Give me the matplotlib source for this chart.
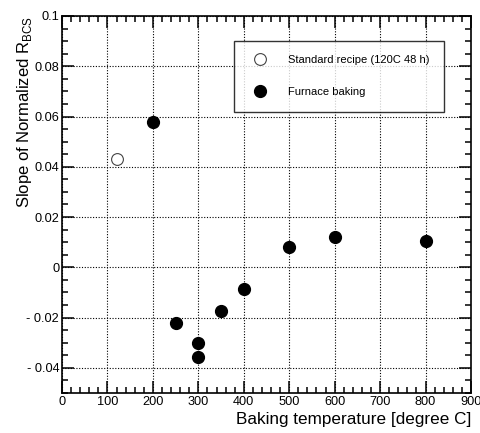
import numpy as np
import matplotlib
matplotlib.use("Agg")
import matplotlib.pyplot as plt
from matplotlib.ticker import MultipleLocator, FuncFormatter

plt.rcParams.update({
    "font.family": ["Liberation Sans", "DejaVu Sans"],
    "xtick.direction": "in",
    "ytick.direction": "in",
})

# Data
std_temp = [120]
std_slope = [0.043]

furnace_temp = [200, 250, 300, 300, 350, 400, 500, 600, 800]
furnace_slope = [0.058, -0.022, -0.030, -0.0355, -0.0175, -0.0085, 0.008, 0.012, 0.0105]

fig = plt.figure(figsize=(4.81, 4.33), dpi=100)
ax = fig.add_axes([62 / 481, 40 / 433, 409 / 481, 377 / 433])

ax.plot(std_temp, std_slope, "o", ms=8.5, mfc="white", mec="#444444", mew=0.8,
        label="Standard recipe (120C 48 h)", zorder=3)
ax.plot(furnace_temp, furnace_slope, "o", ms=8.5, color="black",
        label="Furnace baking", zorder=3)

ax.set_xlim(0, 900)
ax.set_ylim(-0.05, 0.1)
ax.xaxis.set_major_locator(MultipleLocator(100))
ax.xaxis.set_minor_locator(MultipleLocator(20))
ax.yaxis.set_major_locator(MultipleLocator(0.02))
ax.yaxis.set_minor_locator(MultipleLocator(0.005))


def yfmt(v, pos):
    if abs(v) < 1e-9:
        return "0"
    s = f"{abs(v):g}"
    return ("- " + s) if v < 0 else s


ax.yaxis.set_major_formatter(FuncFormatter(yfmt))
ax.tick_params(which="both", top=True, right=True, labelsize=9.2, width=1.1)
ax.tick_params(which="major", length=8.5, pad=2)
ax.tick_params(which="minor", length=4.5)
for sp in ax.spines.values():
    sp.set_linewidth(1.2)

ax.grid(True, which="major", color="black", linestyle=(0, (1, 1.5)), linewidth=0.8)
ax.set_axisbelow(True)

ax.set_xlabel("Baking temperature [degree C]", fontsize=12.3, loc="right", labelpad=3)
ax.set_ylabel(r"Slope of Normalized R$_{\mathregular{BCS}}$", fontsize=12, loc="top")
ax.yaxis.set_label_coords(-0.068, 1.0)

leg = ax.legend(loc="upper right", bbox_to_anchor=(0.935, 0.935), fontsize=8,
                frameon=True, fancybox=False, edgecolor="black", borderpad=1.3,
                labelspacing=2.0, handletextpad=1.6, borderaxespad=0)
leg.get_frame().set_linewidth(1.0)

fig.savefig("out.png", dpi=100)
